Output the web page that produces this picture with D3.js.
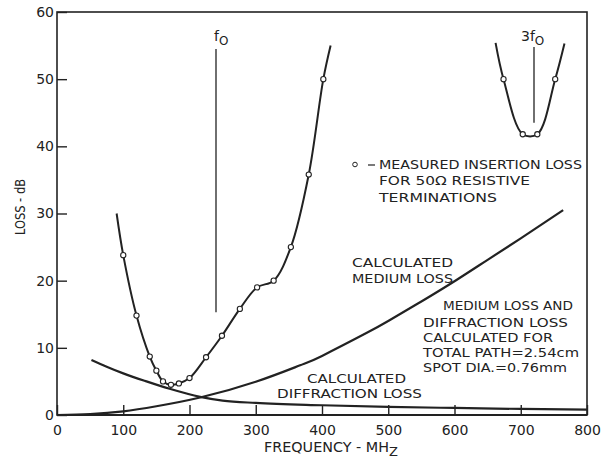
<!DOCTYPE html>
<html>
<head>
<meta charset="utf-8">
<script src="https://cdn.jsdelivr.net/npm/d3@7"></script>
<style>
  html, body { margin: 0; padding: 0; background: #fff; }
  svg { display: block; font-family: "DejaVu Sans", sans-serif; }
  text { fill: #222; }
</style>
</head>
<body>
<svg id="chart" width="612" height="464"></svg>
<script>
// Measured insertion loss near f0 (MHz, dB)
const measuredFreq = [100, 120, 140, 150, 160, 172, 184, 200, 225, 249, 276, 302, 327, 353, 380, 402];
const measuredLoss = [23.8, 14.8, 8.7, 6.6, 5.0, 4.5, 4.7, 5.5, 8.6, 11.8, 15.8, 19.0, 20.0, 25.0, 35.8, 50.0];
// Fitted curve ends beyond the measured points
const fitStart = [90, 30];
const fitEnd = [413, 55];

// Measured insertion loss near 3f0
const harmFreq = [674, 703, 725, 752];
const harmLoss = [50.0, 41.8, 41.8, 50.0];
const harmStart = [662, 55.4];
const harmEnd = [766, 55.3];

// Calculated medium loss
const mediumFreq = [0, 50, 100, 150, 216, 300, 367, 400, 467, 500, 550, 603, 650, 700, 764];
const mediumLoss = [0, 0.15, 0.55, 1.3, 2.6, 4.95, 7.4, 8.8, 12.2, 14.0, 16.9, 20.1, 23.1, 26.3, 30.5];

// Calculated diffraction loss
const diffFreq = [52, 75, 100, 135, 170, 216, 250, 300, 400, 500, 600, 700, 800];
const diffLoss = [8.2, 7.2, 6.2, 5.0, 3.9, 2.7, 2.15, 1.8, 1.45, 1.2, 1.05, 0.9, 0.8];

// Frequency markers: [freq, bottom dB, top dB]
const f0Marker = [240, 15.3, 54.5];
const f3Marker = [720, 43.5, 54.8];

const xTicks = [0, 100, 200, 300, 400, 500, 600, 700, 800];
const yTicks = [0, 10, 20, 30, 40, 50, 60];

const svg = d3.select("#chart");
const x = d3.scaleLinear().domain([0, 800]).range([57, 587]);
const y = d3.scaleLinear().domain([0, 60]).range([415, 12]);

// Frame
svg.append("rect")
  .attr("x", x(0)).attr("y", y(60))
  .attr("width", x(800) - x(0)).attr("height", y(0) - y(60))
  .attr("fill", "none").attr("stroke", "#222").attr("stroke-width", 1.6);
svg.append("line")
  .attr("x1", x(0)).attr("x2", x(800)).attr("y1", y(0)).attr("y2", y(0))
  .attr("stroke", "#222").attr("stroke-width", 2.2);

// Axes with inward ticks
const yAxis = svg.append("g")
  .attr("transform", `translate(${x(0)},0)`)
  .call(d3.axisLeft(y).tickValues(yTicks).tickFormat(d3.format("d")).tickSize(-10).tickPadding(3));
const xAxis = svg.append("g")
  .attr("transform", `translate(0,${y(0)})`)
  .call(d3.axisBottom(x).tickValues(xTicks).tickFormat(d3.format("d")).tickSize(-10).tickPadding(10));
[yAxis, xAxis].forEach(g => {
  g.select(".domain").remove();
  g.selectAll(".tick line").attr("stroke", "#222").attr("stroke-width", 1.4);
  g.selectAll(".tick text").attr("font-size", 14).attr("fill", "#222")
    .attr("font-family", "DejaVu Sans, sans-serif");
});

// Axis titles
svg.append("text")
  .attr("transform", "translate(25,207) rotate(-90)")
  .attr("text-anchor", "middle").attr("font-size", 14)
  .attr("textLength", 56).attr("lengthAdjust", "spacingAndGlyphs")
  .text("LOSS - dB");
const xt = svg.append("text")
  .attr("x", 264).attr("y", 452).attr("font-size", 14);
xt.append("tspan").attr("textLength", 125).attr("lengthAdjust", "spacingAndGlyphs").text("FREQUENCY - MH");
xt.append("tspan").attr("dy", 4).attr("font-size", 13).text("Z");

// Curves
const smooth = d3.line().x(d => x(d[0])).y(d => y(d[1])).curve(d3.curveCatmullRom.alpha(0.5));
const mono = d3.line().x(d => x(d[0])).y(d => y(d[1])).curve(d3.curveMonotoneX);
const natural = d3.line().x(d => x(d[0])).y(d => y(d[1])).curve(d3.curveNatural);
const zip = (a, b) => a.map((v, i) => [v, b[i]]);

const measuredPts = zip(measuredFreq, measuredLoss);
const harmPts = zip(harmFreq, harmLoss);

svg.append("path").datum([fitStart, ...measuredPts, fitEnd])
  .attr("d", smooth).attr("fill", "none").attr("stroke", "#222").attr("stroke-width", 2);
svg.append("path").datum([harmStart, ...harmPts, harmEnd])
  .attr("d", smooth).attr("fill", "none").attr("stroke", "#222").attr("stroke-width", 2);
svg.append("path").datum(zip(mediumFreq, mediumLoss))
  .attr("d", natural).attr("fill", "none").attr("stroke", "#222").attr("stroke-width", 2.2);
svg.append("path").datum(zip(diffFreq, diffLoss))
  .attr("d", mono).attr("fill", "none").attr("stroke", "#222").attr("stroke-width", 2.2);

// Frequency marker lines
[f0Marker, f3Marker].forEach(m => {
  svg.append("line")
    .attr("x1", x(m[0])).attr("x2", x(m[0]))
    .attr("y1", y(m[1])).attr("y2", y(m[2]))
    .attr("stroke", "#222").attr("stroke-width", 1.3);
});

// Measured points
svg.append("g").selectAll("circle")
  .data([...measuredPts, ...harmPts])
  .join("circle")
  .attr("cx", d => x(d[0])).attr("cy", d => y(d[1])).attr("r", 2.6)
  .attr("fill", "#fff").attr("stroke", "#222").attr("stroke-width", 1.1);

// Marker labels
function freqLabel(cx, prefix) {
  const t = svg.append("text").attr("x", cx).attr("y", 41).attr("font-size", 14);
  t.append("tspan").text(prefix + "f");
  t.append("tspan").attr("dy", 4).attr("font-size", 12).text("O");
}
freqLabel(x(f0Marker[0]) - 2, "");
freqLabel(x(f3Marker[0]) - 13, "3");

// Legend marker
svg.append("circle").attr("cx", 355).attr("cy", 164.5).attr("r", 2.3)
  .attr("fill", "#fff").attr("stroke", "#222").attr("stroke-width", 1);
svg.append("line").attr("x1", 368).attr("x2", 375).attr("y1", 165).attr("y2", 165)
  .attr("stroke", "#222").attr("stroke-width", 1.2);

// Annotations: [text, x, baseline, width]
const notes = [
  ["MEASURED INSERTION LOSS", 379, 169, 203],
  ["FOR 50\u03A9 RESISTIVE", 379, 185, 151],
  ["TERMINATIONS", 379, 201.5, 118],
  ["CALCULATED", 352, 266.5, 101],
  ["MEDIUM LOSS", 352, 282.5, 101],
  ["MEDIUM LOSS AND", 443, 310, 130],
  ["DIFFRACTION LOSS", 423, 326.5, 145],
  ["CALCULATED FOR", 423, 341.5, 130],
  ["TOTAL PATH=2.54cm", 423, 356.5, 156],
  ["SPOT DIA.=0.76mm", 423, 372, 144],
  ["CALCULATED", 307, 383, 99],
  ["DIFFRACTION LOSS", 277, 398, 145]
];
svg.append("g").selectAll("text")
  .data(notes)
  .join("text")
  .attr("x", d => d[1]).attr("y", d => d[2])
  .attr("font-size", 13)
  .attr("textLength", d => d[3]).attr("lengthAdjust", "spacingAndGlyphs")
  .text(d => d[0]);
</script>
</body>
</html>
